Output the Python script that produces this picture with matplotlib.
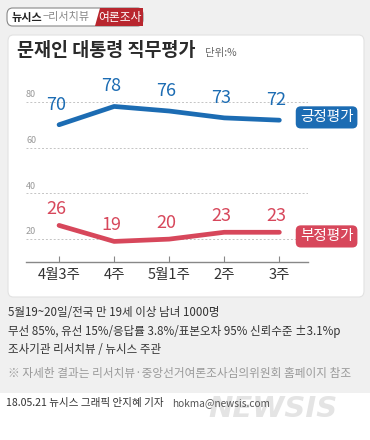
import matplotlib
matplotlib.use("Agg")
import matplotlib.pyplot as plt
from matplotlib.patches import FancyBboxPatch, Polygon, Rectangle

plt.rcParams["font.family"] = ["Noto Sans CJK KR", "DejaVu Sans"]

# data
weeks = ["4월3주", "4주", "5월1주", "2주", "3주"]
positive = [70, 78, 76, 73, 72]
negative = [26, 19, 20, 23, 23]
y_ticks = [20, 40, 60, 80]

BLUE = "#1c6cb3"
RED = "#d7475b"
BG = "#f0f0f0"

W, H = 370, 440
fig = plt.figure(figsize=(W / 100, H / 100), dpi=100)
fig.patch.set_facecolor("white")


def fx(px):
    return px / W


def fy(py):
    return 1 - py / H


# gray page background and white chart card
fig.patches.append(Rectangle((0, fy(393)), 1, 1 - fy(393), transform=fig.transFigure,
                             facecolor=BG, edgecolor="none", zorder=0))
fig.patches.append(FancyBboxPatch((fx(8), fy(297)), fx(356), (297 - 35) / H,
                                  boxstyle="round,pad=0,rounding_size=0.014",
                                  transform=fig.transFigure, facecolor="white",
                                  edgecolor="#e2e2e2", linewidth=0.8, zorder=1))

# header tag
fig.patches.append(FancyBboxPatch((fx(7), fy(26)), fx(136), 18 / H,
                                  boxstyle="round,pad=0,rounding_size=0.015",
                                  transform=fig.transFigure, facecolor="white",
                                  edgecolor="#888888", linewidth=0.8, zorder=1))
fig.patches.append(Polygon([(fx(95), fy(26)), (fx(100), fy(8)), (fx(143), fy(8)),
                            (fx(143), fy(26))], closed=True, transform=fig.transFigure,
                           facecolor="#b8262e", edgecolor="none", zorder=2))
fig.text(fx(12), fy(17), "뉴시스", fontsize=8, fontweight="bold", color="#222222",
         va="center", zorder=3)
fig.text(fx(43), fy(17), "−리서치뷰", fontsize=8, color="#888888", va="center", zorder=3)
fig.text(fx(120), fy(17), "여론조사", fontsize=8.5, color="white",
         va="center", ha="center", zorder=3)

# title
fig.text(fx(17), fy(50), "문재인 대통령 직무평가", fontsize=13.3, fontweight="bold",
         color="#2a2a2a", va="center", zorder=3)
fig.text(fx(205), fy(53), "단위:%", fontsize=7.5, color="#666666", va="center", zorder=3)

# chart axes
ax = fig.add_axes([fx(26), fy(262), fx(282), (262 - 79) / H], zorder=2)
ax.set_facecolor("none")
ax.set_xlim(-0.6, 4.52)
ax.set_ylim(10, 90)
for side in ["top", "right", "left"]:
    ax.spines[side].set_visible(False)
ax.spines["bottom"].set_color("#888888")
ax.spines["bottom"].set_linewidth(1)

ax.set_xticks(range(len(weeks)))
ax.set_xticklabels(weeks, fontsize=10.5, color="#333333")
ax.tick_params(axis="x", direction="in", length=4, width=0.8, color="#888888", pad=4)
ax.set_yticks([])

for v in y_ticks:
    ax.axhline(v, color="#c4c4c4", linestyle=(0, (2, 2)), linewidth=0.7, zorder=1)
    ax.text(-0.6, v + 1.2, str(v), fontsize=6.5, color="#999999", ha="left", va="bottom")

x = range(len(weeks))
ax.plot(x, positive, color=BLUE, linewidth=3.4, solid_capstyle="round",
        solid_joinstyle="round", zorder=3)
ax.plot(x, negative, color=RED, linewidth=3.4, solid_capstyle="round",
        solid_joinstyle="round", zorder=3)

for i, v in enumerate(positive):
    ax.annotate(str(v), (i, v), xytext=(-2, 8), textcoords="offset points",
                ha="center", va="bottom", fontsize=13, color=BLUE, zorder=4)
for i, v in enumerate(negative):
    ax.annotate(str(v), (i, v), xytext=(-2, 5), textcoords="offset points",
                ha="center", va="bottom", fontsize=13, color=RED, zorder=4)

# series tags at the line ends
ax.annotate("긍정평가", (4, positive[-1]), xytext=(34, 2), textcoords="offset points",
            ha="center", va="center", fontsize=10.5, color="white", annotation_clip=False,
            bbox=dict(boxstyle="round,pad=0.28,rounding_size=0.35", facecolor=BLUE,
                      edgecolor="none"))
ax.annotate("부정평가", (4, negative[-1]), xytext=(34, -3), textcoords="offset points",
            ha="center", va="center", fontsize=10.5, color="white", annotation_clip=False,
            bbox=dict(boxstyle="round,pad=0.28,rounding_size=0.35", facecolor=RED,
                      edgecolor="none"))

# notes
notes = [
    "5월19~20일/전국 만 19세 이상 남녀 1000명",
    "무선 85%, 유선 15%/응답률 3.8%/표본오차 95% 신뢰수준 ±3.1%p",
    "조사기관 리서치뷰 / 뉴시스 주관",
]
for k, line in enumerate(notes):
    fig.text(fx(8), fy(313 + k * 18), line, fontsize=8.3, color="#333333", va="center")
fig.text(fx(8), fy(373), "※ 자세한 결과는 리서치뷰·중앙선거여론조사심의위원회 홈페이지 참조",
         fontsize=8.4, color="#9a9a9a", va="center")

fig.text(fx(338), fy(409), "NEWSIS", fontsize=21, fontweight="bold", fontstyle="italic",
         color="#e4e4e4", ha="right", va="center", family=["DejaVu Sans"], zorder=1)
fig.text(fx(6), fy(403), "18.05.21 뉴시스 그래픽 안지혜 기자", fontsize=7.6,
         color="#333333", va="center", zorder=3)
fig.text(fx(172), fy(403), "hokma@newsis.com", fontsize=7.3, color="#555555",
         va="center", zorder=3)

fig.savefig("out.png", dpi=100, facecolor=fig.get_facecolor())
